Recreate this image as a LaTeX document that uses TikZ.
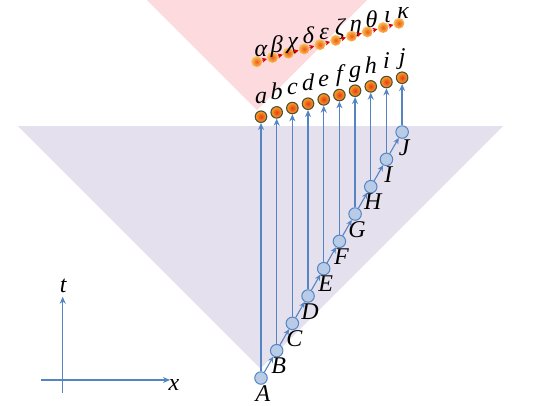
\documentclass[tikz,border=0pt]{standalone}
\usepackage{fontspec}
\setmainfont{Liberation Serif}
\usetikzlibrary{arrows.meta}
\definecolor{pinkcone}{RGB}{252,218,222}
\definecolor{lavcone}{RGB}{229,224,238}
\definecolor{lineblue}{RGB}{84,132,194}
\definecolor{nodefill}{RGB}{184,204,232}
\definecolor{ringdark}{RGB}{80,80,50}
\definecolor{ocore}{RGB}{230,60,20}
\definecolor{oouter}{RGB}{248,165,40}
\definecolor{gcore}{RGB}{238,90,20}
\definecolor{gouter}{RGB}{250,195,90}
\tikzset{
  lbl/.style={font=\fontsize{24}{26}\selectfont\itshape, inner sep=0pt},
  bnode/.style={circle, draw=lineblue, fill=nodefill, minimum size=12.5pt, inner sep=0pt, line width=1pt},
  onode/.style={circle, draw=ringdark, line width=1.1pt, inner color=ocore, outer color=oouter, minimum size=11.5pt, inner sep=0pt},
  gnode/.style={circle, inner color=gcore, outer color=gouter, minimum size=11pt, inner sep=0pt},
  varrow/.style={draw=lineblue, line width=1.3pt, -{Stealth[length=7pt,width=6pt]}},
  darrow/.style={draw=lineblue, line width=1.1pt, -{Stealth[length=6pt,width=5.5pt]}},
  garrow/.style={draw=red!85!black, line width=1pt, -{Stealth[length=5pt,width=5pt]}},
}
\begin{document}
\begin{tikzpicture}[x=1pt,y=-1pt]
\useasboundingbox (0,0) rectangle (540,405);
% cones
\fill[pinkcone] (147,0) -- (367,0) -- (257,110) -- cycle;
\fill[lavcone] (18,126) -- (503,126) -- (260.5,368.5) -- cycle;
% axes
\coordinate (xs) at (40.7,380);
\coordinate (xe) at (170,380);
\coordinate (ts) at (62.7,393);
\coordinate (te) at (62.7,296.7);
\draw[varrow] (xs) -- (xe);
\draw[varrow] (ts) -- (te);
\node[lbl] (tlab) at (63.3,286) {t};
\node[lbl] (xlab) at (174,385) {x};
% blue nodes, orange nodes, greek nodes
\foreach \U/\l/\g [count=\i from 0] in {A/a/α,B/b/β,C/c/χ,D/d/δ,E/e/ε,F/f/ζ,G/g/η,H/h/θ,I/i/ι,J/j/κ}{
  \node[bnode] (\U) at ({261+15.68*\i},{378-27.33*\i}) {};
  \node[onode] (\l) at ({261+15.68*\i},{116.7-4.33*\i}) {};
  \node[gnode] (g\i) at ({256.7+15.8*\i},{61.7-4.27*\i}) {};
  \node[lbl, anchor=base] (l\U) at ({263+15.68*\i},{401-27.33*\i}) {\U};
  \node[lbl, anchor=base] (l\l) at ({261+15.68*\i},{103.5-4.33*\i}) {\l};
  \node[lbl, anchor=base] (lg\i) at ({261+15.8*\i},{56.5-4.2*\i}) {\g};
  \draw[varrow] (\U) -- (\l);
}
\foreach \p/\q in {A/B,B/C,C/D,D/E,E/F,F/G,G/H,H/I,I/J}{
  \draw[darrow] (\p) -- (\q);
}
\foreach \i [evaluate=\i as \j using int(\i+1)] in {0,...,8}{
  \draw[garrow] (g\i) -- (g\j);
}
\end{tikzpicture}
\end{document}
